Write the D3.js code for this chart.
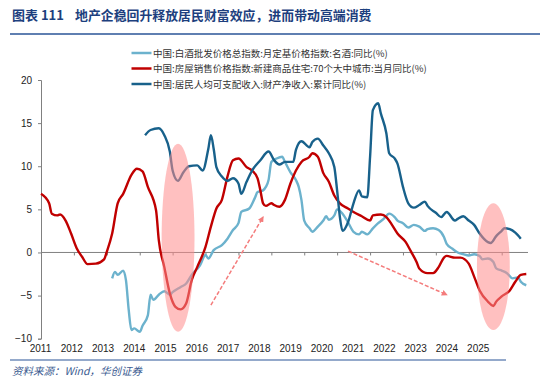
<!DOCTYPE html>
<html>
<head>
<meta charset="utf-8">
<script src="https://cdn.jsdelivr.net/npm/d3@7"></script>
<style>
  body { margin: 0; background: #fff; }
  svg { display: block; }
  .tick text { font-family: "Liberation Sans", Arial, sans-serif; font-size: 10px; fill: #222; }
</style>
</head>
<body>
<div class="chart"></div>
<script>
// 中国:白酒批发价格总指数:月定基价格指数:名酒:同比(%)
const liquor = [
  ["2013-03",-3.0],["2013-04",-2.25],["2013-05",-2.6],["2013-07",-2.1],["2013-08",-3.2],["2013-09",-6.7],
  ["2013-10",-9.0],["2013-11",-8.8],["2014-01",-9.2],["2014-02",-8.5],["2014-04",-7.3],["2014-05",-4.9],
  ["2014-06",-5.5],["2014-08",-4.9],["2014-10",-4.5],["2014-12",-4.9],["2015-01",-4.6],["2015-04",-4.0],
  ["2015-06",-3.6],["2015-08",-2.6],["2015-11",-1.5],["2016-01",-0.3],["2016-02",-0.7],["2016-04",0.27],
  ["2016-07",0.85],["2016-09",1.6],["2016-11",2.6],["2017-01",3.4],["2017-02",4.7],["2017-05",5.1],
  ["2017-07",6.3],["2017-08",7.0],["2017-10",7.2],["2017-11",7.6],["2017-12",8.4],["2018-01",10.5],
  ["2018-03",10.9],["2018-05",11.1],["2018-06",10.5],["2018-08",9.3],["2018-10",8.4],["2018-11",7.6],
  ["2018-12",6.1],["2019-01",3.7],["2019-03",2.8],["2019-04",2.4],["2019-06",3.0],["2019-08",3.7],
  ["2019-09",4.2],["2019-10",3.8],["2019-12",4.3],["2020-01",5.0],["2020-03",4.5],["2020-05",3.5],
  ["2020-07",2.4],["2020-09",2.1],["2020-10",2.4],["2020-12",2.1],["2021-02",2.8],["2021-04",3.4],
  ["2021-06",3.9],["2021-08",4.5],["2021-10",4.1],["2021-11",3.7],["2022-01",3.4],["2022-03",2.9],
  ["2022-05",3.2],["2022-07",3.0],["2022-09",2.5],["2022-10",2.7],["2022-12",2.8],["2023-02",2.6],
  ["2023-04",1.8],["2023-05",1.0],["2023-07",0.46],["2023-09",0.0],["2023-11",-0.2],["2024-01",-0.35],
  ["2024-03",-0.2],["2024-05",-0.4],["2024-06",-0.8],["2024-08",-0.7],["2024-10",-1.1],["2024-11",-1.85],
  ["2025-01",-2.1],["2025-03",-2.4],["2025-05",-3.0],["2025-07",-2.9],["2025-08",-3.4],["2025-10",-3.8]
];

// 中国:房屋销售价格指数:新建商品住宅:70个大中城市:当月同比(%)
const housing = [
  ["2011-01",6.8],["2011-04",5.7],["2011-05",4.5],["2011-07",4.3],["2011-08",4.4],["2011-10",3.7],
  ["2011-12",2.2],["2012-02",0.5],["2012-04",-0.5],["2012-06",-1.35],["2012-09",-1.3],["2012-12",-0.8],
  ["2013-01",0.1],["2013-03",2.2],["2013-05",5.7],["2013-07",6.8],["2013-10",9.0],["2013-12",9.7],
  ["2014-02",9.4],["2014-04",7.6],["2014-07",4.9],["2014-08",1.4],["2014-10",-1.7],["2014-12",-4.75],
  ["2015-02",-6.3],["2015-04",-6.6],["2015-06",-5.9],["2015-08",-3.2],["2015-10",-1.7],["2016-01",0.65],
  ["2016-03",3.0],["2016-05",5.1],["2016-07",6.1],["2016-09",8.8],["2016-11",10.7],["2017-01",10.9],
  ["2017-04",9.9],["2017-06",9.5],["2017-08",8.6],["2017-09",7.2],["2017-10",5.7],["2017-11",5.4],
  ["2018-01",5.7],["2018-02",5.5],["2018-04",5.3],["2018-06",6.1],["2018-08",8.0],["2018-10",9.5],
  ["2018-12",10.5],["2019-03",11.1],["2019-04",11.5],["2019-06",11.1],["2019-08",9.2],["2019-10",8.2],
  ["2019-12",6.6],["2020-02",5.7],["2020-05",5.1],["2020-07",4.7],["2020-10",4.2],["2021-01",3.7],
  ["2021-02",4.3],["2021-05",4.4],["2021-07",4.1],["2021-09",3.2],["2021-11",2.2],["2022-02",1.2],
  ["2022-04",0.1],["2022-06",-1.1],["2022-07",-1.85],["2022-10",-2.4],["2022-12",-2.4],["2023-02",-1.7],
  ["2023-04",-0.6],["2023-05",-0.4],["2023-08",-0.6],["2023-10",-0.6],["2024-01",-1.3],["2024-03",-2.8],
  ["2024-05",-4.4],["2024-08",-5.7],["2024-10",-6.2],["2024-11",-5.7],["2025-01",-5.1],["2025-04",-4.4],
  ["2025-06",-3.4],["2025-08",-2.6],["2025-10",-2.5]
];

// 中国:居民人均可支配收入:财产净收入:累计同比(%)
const propIncome = [
  ["2014-03",13.6],["2014-05",14.2],["2014-08",14.4],["2014-10",13.6],["2014-12",11.7],["2015-01",9.5],
  ["2015-03",8.3],["2015-05",9.3],["2015-07",10.0],["2015-10",10.1],["2015-12",9.5],["2016-02",12.0],
  ["2016-03",13.6],["2016-04",12.0],["2016-05",9.9],["2016-07",8.8],["2016-09",8.3],["2016-11",8.6],
  ["2017-01",8.0],["2017-02",6.8],["2017-04",8.2],["2017-06",9.5],["2017-09",10.7],["2017-12",11.7],
  ["2018-02",10.7],["2018-04",10.2],["2018-06",10.5],["2018-09",10.5],["2018-10",11.9],["2018-12",12.9],
  ["2019-03",12.2],["2019-04",12.8],["2019-06",13.2],["2019-08",12.4],["2019-10",11.5],["2019-12",9.9],
  ["2020-01",7.2],["2020-02",4.1],["2020-03",2.5],["2020-05",3.5],["2020-07",5.7],["2020-09",7.2],
  ["2020-10",6.5],["2020-12",6.4],["2021-01",11.1],["2021-02",16.5],["2021-04",17.3],["2021-05",16.1],
  ["2021-07",13.8],["2021-08",11.5],["2021-10",10.9],["2021-11",10.3],["2022-01",7.6],["2022-03",5.7],
  ["2022-05",5.2],["2022-07",5.5],["2022-09",5.9],["2022-10",5.4],["2023-01",4.6],["2023-03",4.1],
  ["2023-05",4.7],["2023-08",3.7],["2023-09",3.9],["2023-11",4.2],["2024-01",3.7],["2024-03",3.2],
  ["2024-05",2.2],["2024-08",1.2],["2024-09",1.1],["2024-11",1.9],["2025-01",2.5],["2025-02",2.8],
  ["2025-04",2.7],["2025-06",2.3],["2025-08",1.6]
];

const seriesNames = [
  "中国:白酒批发价格总指数:月定基价格指数:名酒:同比(%)",
  "中国:房屋销售价格指数:新建商品住宅:70个大中城市:当月同比(%)",
  "中国:居民人均可支配收入:财产净收入:累计同比(%)"
];
const seriesColors = ["#6cb2cd", "#c00000", "#18618b"];

const yTicks = [-10, -5, 0, 5, 10, 15, 20];
const xLabels = ["2011","2012","2013","2014","2015","2016","2017","2018","2019","2020","2021","2022","2023","2024","2025"];

// highlighted periods (ellipses): [start, end, low, high]
const highlights = [
  ["2014-09", "2015-09", -9.2, 12.6],
  ["2024-04", "2025-04", -9.0, 5.7]
];
// trend arrows: [from date, from value, to date, to value]
const arrows = [
  ["2016-03", -6.1, "2017-10", 4.1],
  ["2020-05", 0.15, "2023-05", -4.9]
];

const parse = d3.timeParse("%Y-%m");
const W = 550, H = 387;

const svg = d3.select(".chart").append("svg")
  .attr("width", W).attr("height", H);

// title
svg.append("text")
  .attr("x", 12).attr("y", 20)
  .attr("font-family", "Noto Sans CJK SC")
  .attr("font-size", 13).attr("font-weight", "bold")
  .attr("fill", "#1d3f7e")
  .text("图表 111");
svg.append("text")
  .attr("x", 75).attr("y", 20)
  .attr("font-family", "Noto Sans CJK SC")
  .attr("font-size", 12.9).attr("font-weight", "bold")
  .attr("fill", "#1d3f7e")
  .text("地产企稳回升释放居民财富效应，进而带动高端消费");
svg.append("line")
  .attr("x1", 10).attr("x2", 540).attr("y1", 34).attr("y2", 34)
  .attr("stroke", "#2a5597").attr("stroke-width", 1.5);

// footer
svg.append("line")
  .attr("x1", 10).attr("x2", 506).attr("y1", 360).attr("y2", 360)
  .attr("stroke", "#2a5597").attr("stroke-width", 1.2);
svg.append("text")
  .attr("x", 12).attr("y", 375)
  .attr("font-family", "Noto Sans CJK SC")
  .attr("font-size", 10.5).attr("font-style", "italic")
  .attr("fill", "#3a5a90")
  .text("资料来源：Wind，华创证券");

// scales
const x = d3.scaleTime()
  .domain([new Date(2011, 0, 1), new Date(2025, 9, 20)])
  .range([41, 528]);
const y = d3.scaleLinear()
  .domain([-10, 20])
  .range([338.7, 80]);
const labelX = d3.scalePoint()
  .domain(xLabels)
  .range([40, 477.7]);

// y axis
const yAxis = d3.axisLeft(y).tickValues(yTicks).tickSize(3).tickPadding(6);
const gy = svg.append("g")
  .attr("transform", "translate(41,0)")
  .call(yAxis);
gy.selectAll("path, line").attr("stroke", "#808080");

// zero line with yearly ticks
const xAxis = d3.axisBottom(x)
  .ticks(d3.timeYear.every(1))
  .tickSize(3)
  .tickFormat("");
const gx = svg.append("g")
  .attr("transform", `translate(0,${y(0)})`)
  .call(xAxis);
gx.select(".domain").attr("d", `M41,0H528`);
gx.selectAll("path, line").attr("stroke", "#808080");

// year labels (placed along the bottom)
const gl = svg.append("g")
  .attr("transform", "translate(0,343)")
  .call(d3.axisBottom(labelX).tickSize(0).tickPadding(2));
gl.select(".domain").remove();

// lines
const line = d3.line()
  .x(d => x(parse(d[0])))
  .y(d => y(d[1]))
  .curve(d3.curveMonotoneX);

[liquor, housing, propIncome].forEach((s, i) => {
  svg.append("path")
    .datum(s)
    .attr("fill", "none")
    .attr("stroke", seriesColors[i])
    .attr("stroke-width", 2.4)
    .attr("stroke-linejoin", "round")
    .attr("d", line);
});

// highlight ellipses
svg.selectAll(".hl")
  .data(highlights)
  .join("ellipse")
  .attr("class", "hl")
  .attr("cx", d => (x(parse(d[0])) + x(parse(d[1]))) / 2)
  .attr("cy", d => (y(d[2]) + y(d[3])) / 2)
  .attr("rx", d => (x(parse(d[1])) - x(parse(d[0]))) / 2)
  .attr("ry", d => (y(d[2]) - y(d[3])) / 2)
  .attr("fill", "#ff8c8c")
  .attr("opacity", 0.55);

// arrows
svg.append("defs").append("marker")
  .attr("id", "arrowhead")
  .attr("viewBox", "0 0 10 10")
  .attr("refX", 8).attr("refY", 5)
  .attr("markerWidth", 4).attr("markerHeight", 4)
  .attr("orient", "auto")
  .append("path")
  .attr("d", "M0,0L10,5L0,10z")
  .attr("fill", "#f47c7c");

svg.selectAll(".arrow")
  .data(arrows)
  .join("line")
  .attr("class", "arrow")
  .attr("x1", d => x(parse(d[0])))
  .attr("y1", d => y(d[1]))
  .attr("x2", d => x(parse(d[2])))
  .attr("y2", d => y(d[3]))
  .attr("stroke", "#f47c7c")
  .attr("stroke-width", 1.5)
  .attr("stroke-dasharray", "4,2")
  .attr("marker-end", "url(#arrowhead)");

// legend
const legend = svg.append("g");
const legendY = [53, 68.5, 84];
seriesNames.forEach((name, i) => {
  legend.append("line")
    .attr("x1", 131.5).attr("x2", 151.5)
    .attr("y1", legendY[i]).attr("y2", legendY[i])
    .attr("stroke", seriesColors[i]).attr("stroke-width", 2.5);
  legend.append("text")
    .attr("x", 153).attr("y", legendY[i] + 3.5)
    .attr("font-family", "Noto Sans CJK SC")
    .attr("font-size", 9.5)
    .attr("fill", "#333")
    .text(name);
});
</script>
</body>
</html>
